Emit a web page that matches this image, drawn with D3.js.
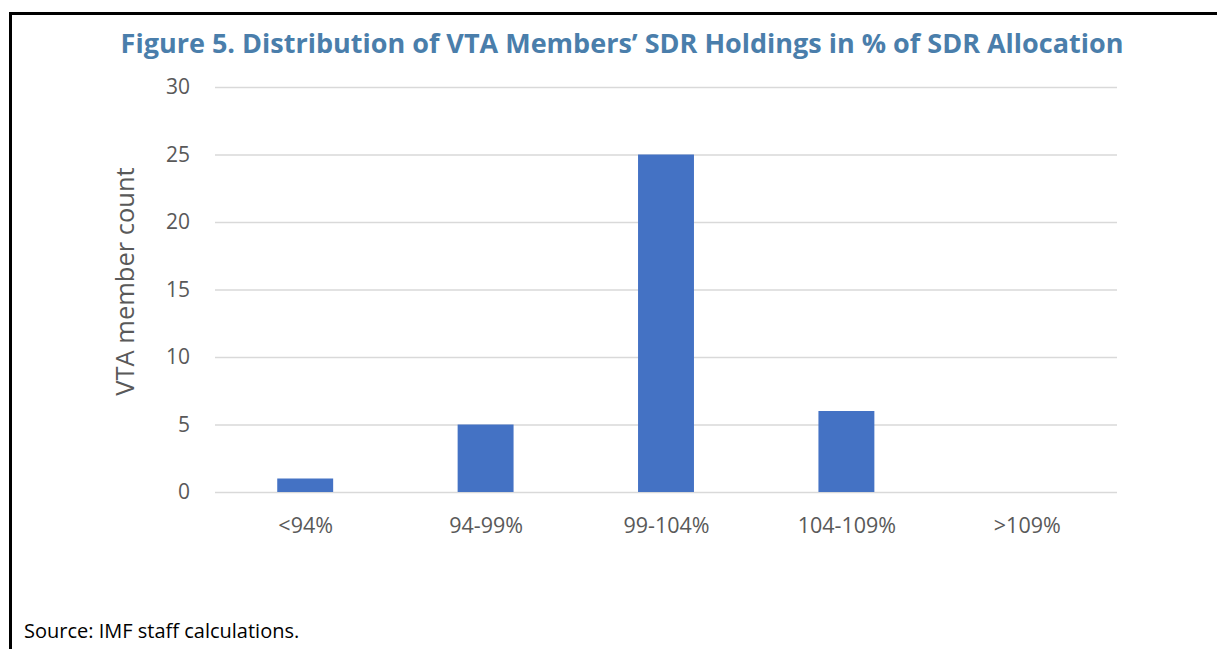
<!DOCTYPE html>
<html>
<head>
<meta charset="utf-8">
<title>Figure 5</title>
<script src="https://d3js.org/d3.v7.min.js"></script>
<style>
  body { margin: 0; background: #fff; }
  text { font-family: "Open Sans", "Noto Sans", sans-serif; }
</style>
</head>
<body>
<svg width="1217" height="649"></svg>
<script>
var categories = ["<94%", "94-99%", "99-104%", "104-109%", ">109%"];
var counts = [1, 5, 25, 6, 0];
var yTicks = [0, 5, 10, 15, 20, 25, 30];

var svg = d3.select("svg"),
    margin = {top: 87, right: 100, bottom: 157, left: 215},
    width = +svg.attr("width") - margin.left - margin.right,
    height = +svg.attr("height") - margin.top - margin.bottom;

// frame lines
svg.append("line").attr("x1", 9).attr("x2", 1217).attr("y1", 13.5).attr("y2", 13.5)
  .attr("stroke", "#000").attr("stroke-width", 3);
svg.append("line").attr("x1", 10.5).attr("x2", 10.5).attr("y1", 12).attr("y2", 649)
  .attr("stroke", "#000").attr("stroke-width", 3);

svg.append("text")
  .attr("x", 622).attr("y", 53)
  .attr("text-anchor", "middle")
  .attr("fill", "#4a7eab")
  .style("font-size", "27px").style("font-weight", "bold")
  .text("Figure 5. Distribution of VTA Members\u2019 SDR Holdings in % of SDR Allocation");

var g = svg.append("g").attr("transform", `translate(${margin.left},${margin.top})`);

var x = d3.scaleBand().domain(categories).range([0, width]).paddingInner(0.69).paddingOuter(0.345);
var y = d3.scaleLinear().domain([0, 30]).range([height, 0]);

g.append("g")
  .call(d3.axisLeft(y).tickValues(yTicks).tickSize(-width).tickPadding(25))
  .call(a => a.select(".domain").remove())
  .call(a => a.selectAll(".tick line").attr("stroke", "#d9d9d9").attr("stroke-width", 1.5))
  .call(a => a.selectAll(".tick text").attr("fill", "#595959").style("font-size", "21px")
    .style("font-family", "'Open Sans', sans-serif"));

g.selectAll(".bar")
  .data(counts)
  .enter().append("rect")
  .attr("class", "bar")
  .attr("x", (d, i) => x(categories[i]))
  .attr("y", d => y(d))
  .attr("width", x.bandwidth())
  .attr("height", d => height - y(d))
  .attr("fill", "#4472c4");

g.append("g")
  .attr("transform", `translate(0,${height})`)
  .call(d3.axisBottom(d3.scalePoint().domain(categories).range([0, width]).padding(0.5)).tickSize(0).tickPadding(26))
  .call(a => a.select(".domain").remove())
  .call(a => a.selectAll(".tick text").attr("fill", "#595959").style("font-size", "21.5px")
    .style("font-family", "'Open Sans', sans-serif"));

svg.append("text")
  .attr("transform", "translate(134," + (margin.top + height / 2 - 8) + ") rotate(-90)")
  .attr("text-anchor", "middle")
  .attr("fill", "#595959")
  .style("font-size", "25.5px")
  .text("VTA member count");

svg.append("text")
  .attr("x", 24).attr("y", 638)
  .attr("fill", "#000")
  .style("font-size", "20px")
  .text("Source: IMF staff calculations.");
</script>
</body>
</html>
